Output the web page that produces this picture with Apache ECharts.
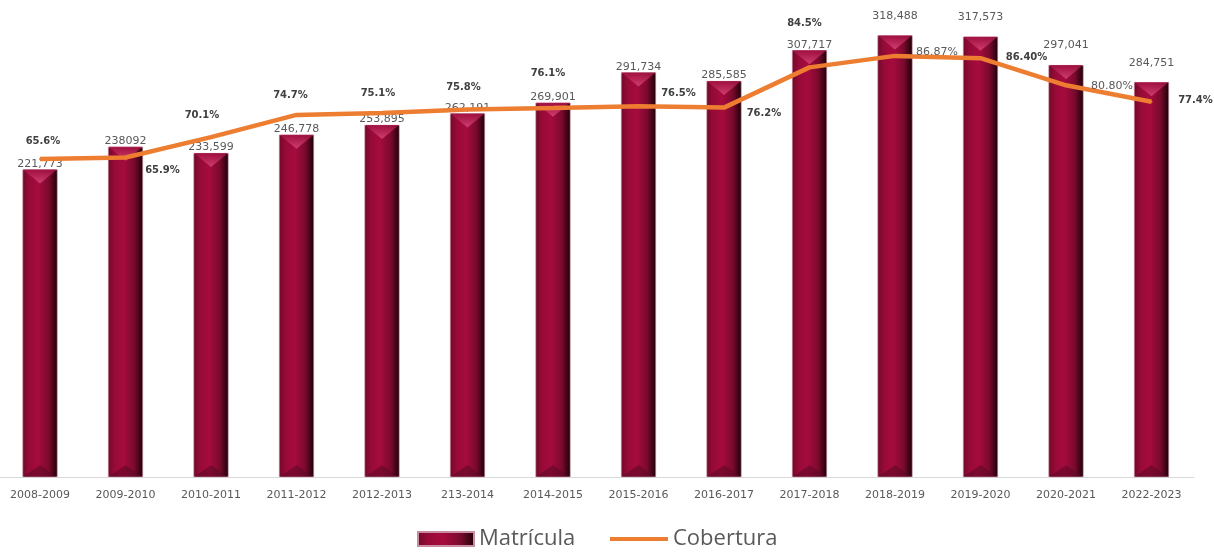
<!DOCTYPE html>
<html>
<head>
<meta charset="utf-8">
<script src="https://cdn.jsdelivr.net/npm/echarts@6/dist/echarts.min.js"></script>
<style>
html,body{margin:0;padding:0;background:#fff;}
#c{width:1214px;height:553px;}
</style>
</head>
<body>
<div id="c"></div>
<script>
var categories = ['2008-2009','2009-2010','2010-2011','2011-2012','2012-2013','213-2014','2014-2015','2015-2016','2016-2017','2017-2018','2018-2019','2019-2020','2020-2021','2022-2023'];
var matricula = [221773, 238092, 233599, 246778, 253895, 262191, 269901, 291734, 285585, 307717, 318488, 317573, 297041, 284751];
var matriculaLabels = ['221,773','238092','233,599','246,778','253,895','262,191','269,901','291,734','285,585','307,717','318,488','317,573','297,041','284,751'];
var cobertura = [65.6, 65.9, 70.1, 74.7, 75.1, 75.8, 76.1, 76.5, 76.2, 84.5, 86.87, 86.40, 80.80, 77.4];
var coberturaLabels = ['65.6%','65.9%','70.1%','74.7%','75.1%','75.8%','76.1%','76.5%','76.2%','84.5%','86.87%','86.40%','80.80%','77.4%'];

// label placement (style only)
var lineLabelOffsets = [[3,-18],[37,13],[-9,-22],[-6,-19],[-4,-20],[-4,-22],[-5,-35],[40,-13],[40,6],[-5,-44],[42,-4],[46,-1],[46,1],[44,-1]];
var lineLabelLight = function(i){ return i === 10 || i === 12; };
var barLabelDistance = function(i){ return i >= 10 ? 14 : 0; };

var barGrad = new echarts.graphic.LinearGradient(0,0,1,0,[
  {offset:0,color:'#6e0a27'},
  {offset:0.18,color:'#960a38'},
  {offset:0.45,color:'#a60b3e'},
  {offset:0.75,color:'#7a0a2d'},
  {offset:1,color:'#1c0007'}
]);
var bevelGrad = new echarts.graphic.LinearGradient(0,0,0,1,[
  {offset:0,color:'#d8467a'},
  {offset:1,color:'#a0103f'}
]);

var chart = echarts.init(document.getElementById('c'), null, {renderer:'canvas'});
var option = {
  animation:false,
  backgroundColor:'#ffffff',
  grid:[
    {left:40,right:62.5,top:0,height:477,containLabel:false},
    {left:0,right:20,top:0,height:477,containLabel:false}
  ],
  legend:[
    {data:[{name:'Matrícula',icon:'rect'}],left:412,top:523,itemWidth:56,itemHeight:14,itemGap:7,
     textStyle:{color:'#595959',fontSize:22,fontFamily:'Open Sans'}},
    {data:[{name:'Cobertura',icon:'rect'}],left:605,top:523,itemWidth:58,itemHeight:4,itemGap:5,
     textStyle:{color:'#595959',fontSize:22,fontFamily:'Open Sans'}}
  ],
  xAxis:[
    {
      type:'category',data:categories,gridIndex:0,boundaryGap:false,
      axisTick:{show:false},
      axisLine:{show:false},
      axisLabel:{color:'#595959',fontSize:11,fontFamily:'DejaVu Sans',margin:13,interval:0}
    },
    {
      type:'category',data:categories,gridIndex:1,
      axisTick:{show:false},
      axisLabel:{show:false},
      axisLine:{show:true,lineStyle:{color:'#d9d9d9',width:1}}
    }
  ],
  yAxis:[
    {type:'value',gridIndex:0,min:0,max:344000,show:false,splitLine:{show:false}},
    {type:'value',gridIndex:0,min:0,max:98.4,show:false,splitLine:{show:false}},
    {type:'value',gridIndex:1,min:0,max:100,show:false,splitLine:{show:false}}
  ],
  series:[
    {
      name:'Matrícula',type:'bar',barWidth:35,xAxisIndex:0,yAxisIndex:0,z:2,
      itemStyle:{color:barGrad,borderColor:'#c98ca0',borderWidth:0.6},
      data:matricula.map(function(v,i){
        return {value:v,label:{show:true,position:'top',distance:barLabelDistance(i),formatter:matriculaLabels[i],
          color:'#595959',fontSize:11,fontFamily:'DejaVu Sans'}};
      })
    },
    {
      name:'bevelTop',type:'pictorialBar',xAxisIndex:0,yAxisIndex:0,z:3,
      symbol:'triangle',symbolRotate:180,symbolSize:[34,14],symbolPosition:'end',
      itemStyle:{color:bevelGrad,opacity:0.85},
      silent:true,data:matricula
    },
    {
      name:'bevelBottom',type:'pictorialBar',xAxisIndex:0,yAxisIndex:0,z:3,
      symbol:'triangle',symbolSize:[34,12],symbolPosition:'start',
      itemStyle:{color:'#5a0a24',opacity:0.55},
      silent:true,data:matricula
    },
    {
      name:'Cobertura',type:'line',xAxisIndex:0,yAxisIndex:1,z:5,
      color:'#ED7D31',
      lineStyle:{color:'#ED7D31',width:4.5},
      symbol:'circle',symbolSize:2,showSymbol:true,
      itemStyle:{color:'#ED7D31'},
      data:cobertura.map(function(v,i){
        var light = lineLabelLight(i);
        return {value:v,label:{show:true,position:'inside',offset:lineLabelOffsets[i],formatter:coberturaLabels[i],
          color:light ? '#595959' : '#404040',fontSize:light ? 11 : 10,fontWeight:light ? 'normal' : 'bold',fontFamily:'DejaVu Sans'}};
      })
    }
  ]
};
chart.setOption(option);
</script>
</body>
</html>
